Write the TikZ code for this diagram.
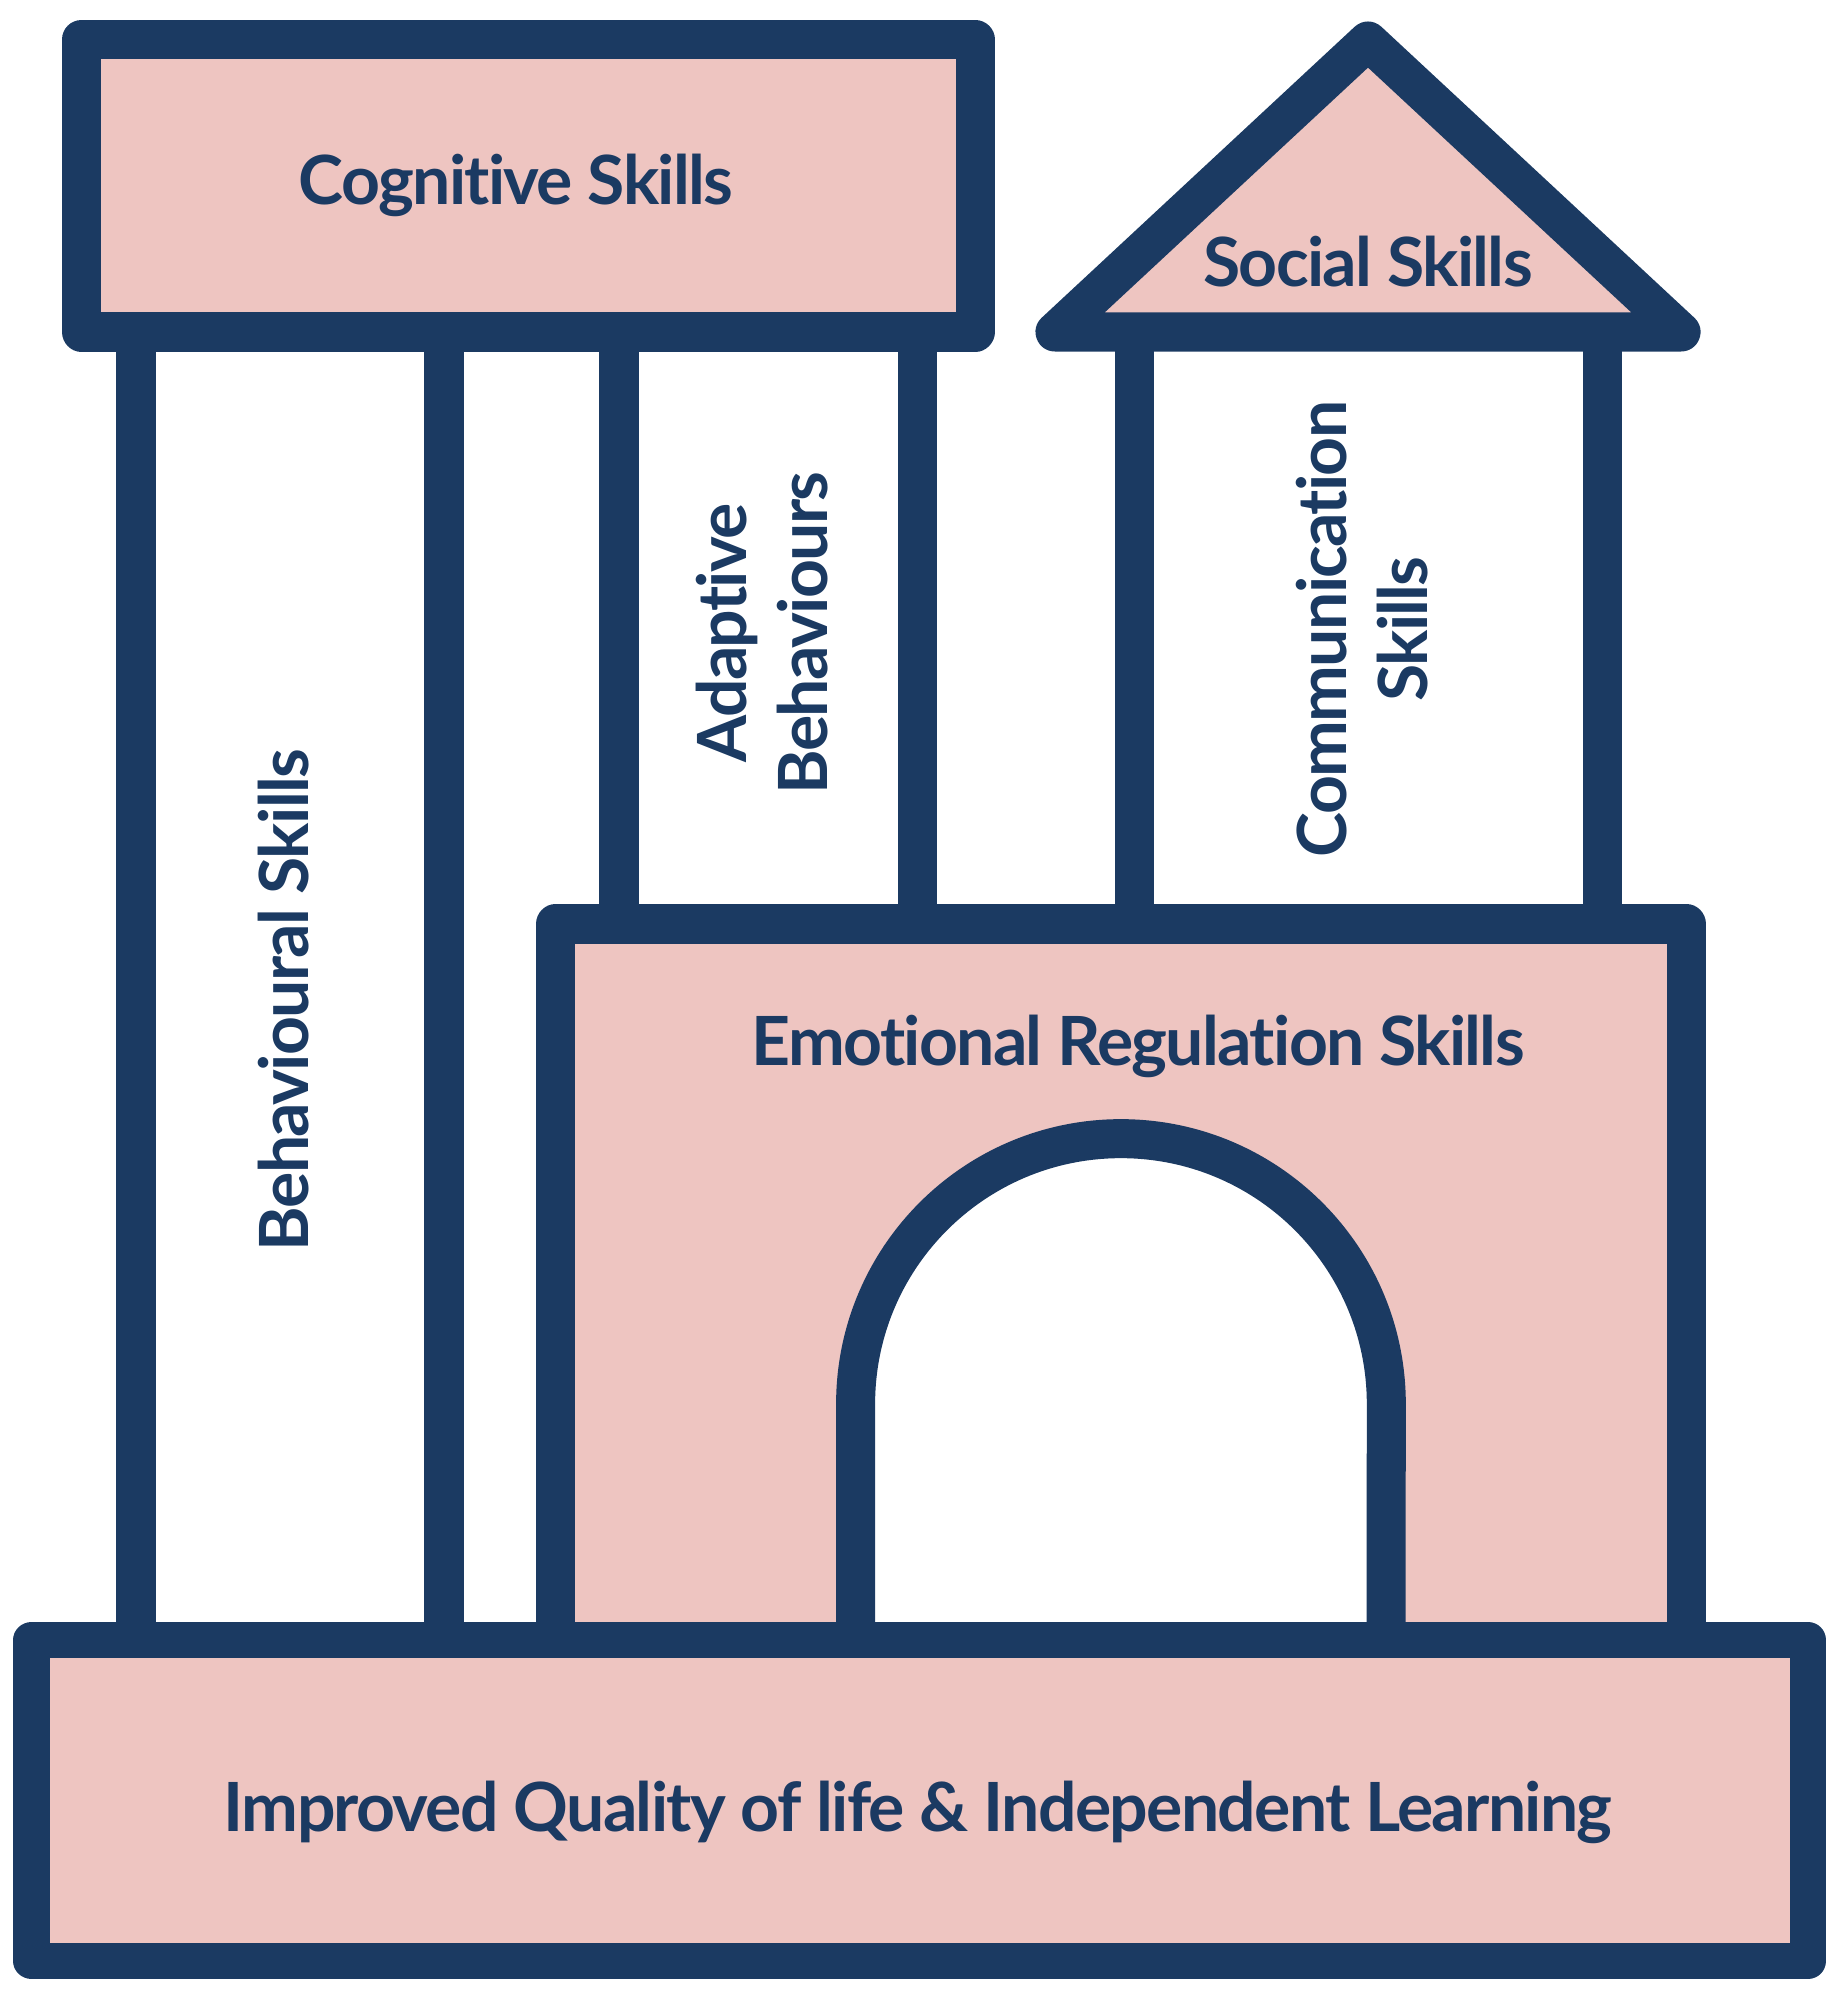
\documentclass[tikz,border=0pt]{standalone}
\usepackage{fontspec}
\setmainfont{Lato}[LetterSpace=-2.5, Ligatures=NoCommon]
\definecolor{navy}{HTML}{1B3A62}
\definecolor{blush}{HTML}{EEC5C1}

\tikzset{
    wall/.style={draw=navy, line width=0.39cm, line join=round},
    block/.style={wall, fill=blush},
    skilltext/.style={text=navy, inner sep=0pt, font=\bfseries\fontsize{19.3}{22.8}\selectfont},
}

\begin{document}
\begin{tikzpicture}[x=0.01cm, y=-0.01cm]

    \useasboundingbox (0,0) rectangle (1839,2000);

    % Pillars
    \foreach \px/\ybot in {136/1640, 444/1640, 619/924, 917/924, 1134/924, 1602/924} {
        \draw[wall] (\px,332) -- (\px,\ybot);
    }

    % Cognitive block on top
    \draw[block] (81.5,39.5) rectangle (975,332);
    \node[skilltext, anchor=base] (cog) at (516,205) {Cognitive Skills};

    % Social roof
    \draw[block] (1055,332) -- (1368,41) -- (1681,332) -- cycle;
    \node[skilltext, anchor=base] (soc) at (1368,287) {Social Skills};

    % Emotional block with the arch
    \fill[blush] (555.5,924) rectangle (1686.5,1640);
    \fill[white] (855.6,1640) -- (855.6,1404) arc[start angle=180, end angle=0, radius=2.652cm] -- (1386,1640) -- cycle;
    \draw[wall] (555.5,1640) -- (555.5,924) -- (1686.5,924) -- (1686.5,1640);
    \draw[wall] (855.6,1640) -- (855.6,1404) arc[start angle=180, end angle=0, radius=2.652cm] -- (1386,1640);
    \node[skilltext, anchor=base] (emo) at (1138,1065) {Emotional Regulation Skills};

    % Base block
    \draw[block, line width=0.36cm] (31.5,1640) rectangle (1808,1961);
    \node[skilltext, anchor=base] (qol) at (918,1831) {Improved Quality of life \& Independent Learning};

    % Pillar texts
    \node[skilltext, anchor=base, rotate=90] (beh) at (308,1000) {Behavioural Skills};
    \node[skilltext, rotate=90, align=center] (adap) at (762,633) {Adaptive\\Behaviours};
    \node[skilltext, rotate=90, align=center] (comm) at (1362,629) {Communication\\Skills};

\end{tikzpicture}
\end{document}
